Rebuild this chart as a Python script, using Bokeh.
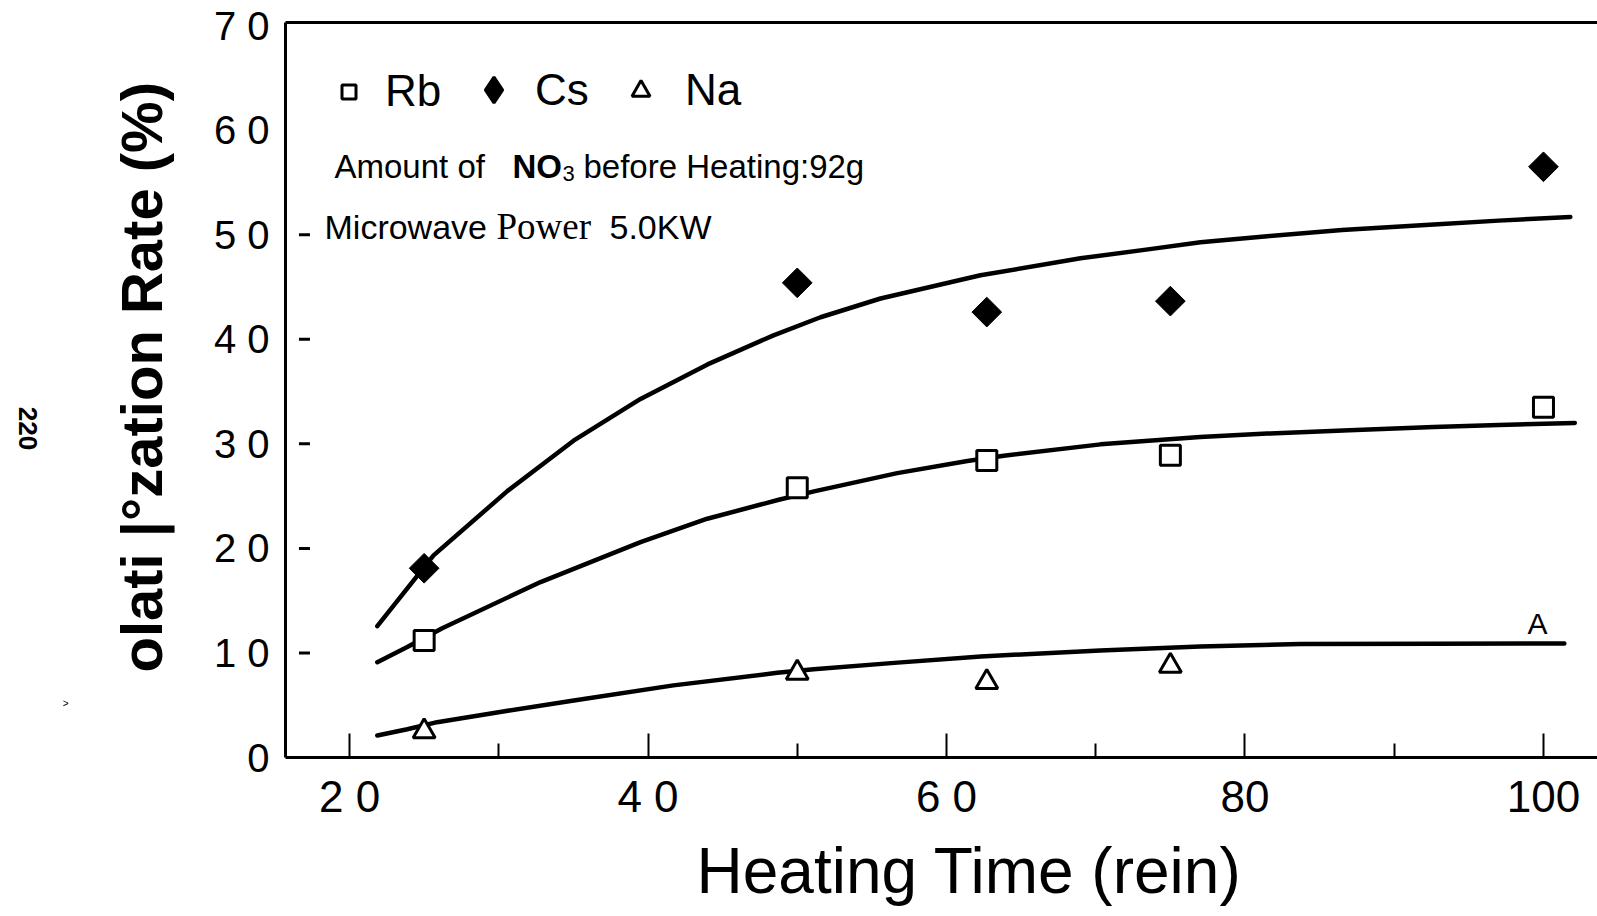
import numpy as np
from bokeh.plotting import figure
from bokeh.models import (Range1d, LinearAxis, FixedTicker, Label, Legend, LegendItem,
                          Title, ColumnDataSource)
from bokeh.embed import file_html
from bokeh.resources import INLINE

# ---------------- data ----------------
heating_time = [25, 50, 62.7, 75, 100]
rb_rate = [11.2, 25.8, 28.4, 28.9, 33.5]
cs_rate = [18.1, 45.4, 42.6, 43.65, 56.5]
na_time = [25, 50, 62.7, 75]
na_rate = [2.5, 8.1, 7.2, 8.75]

# hand-drawn fitted curves
cs_curve_t = [21.86, 25.63, 30.59, 35.01, 39.50, 43.99, 48.41, 51.56, 55.58,
              62.28, 68.98, 73.5, 77.02, 81.49, 86.5, 92.65, 97.0, 101.8]
cs_curve_r = [12.56, 19.33, 25.5, 30.3, 34.3, 37.6, 40.38, 42.11, 43.9,
              46.12, 47.75, 48.6, 49.28, 49.86, 50.45, 50.97, 51.35, 51.7]
rb_curve_t = [21.86, 23.87, 26.21, 32.8, 39.5, 43.97, 48.76, 51.2, 56.7,
              61.4, 63.84, 70.32, 77.0, 81.49, 87.0, 92.65, 97.0, 102.1]
rb_curve_r = [9.12, 10.56, 12.37, 16.78, 20.6, 22.84, 24.65, 25.48, 27.2,
              28.36, 28.87, 29.95, 30.65, 30.98, 31.3, 31.6, 31.8, 32.0]
na_curve_t = [21.86, 23.87, 25.87, 30.5, 35.03, 41.7, 48.66, 51.1, 56.5,
              62.3, 70.3, 77.0, 83.7, 92.65, 101.4]
na_curve_r = [2.1, 2.7, 3.38, 4.45, 5.45, 6.9, 8.1, 8.45, 9.05,
              9.67, 10.24, 10.62, 10.85, 10.88, 10.9]

x_ticks = [20, 40, 60, 80, 100]
x_minor_ticks = [30, 50, 70, 90]
x_tick_labels = ["2 0", "4 0", "6 0", "80", "100"]
y_ticks = [0, 10, 20, 30, 40, 50, 60, 70]
y_tick_labels = ["0", "1 0", "2 0", "3 0", "4 0", "5 0", "6 0", "7 0"]
y_dash_ticks = [10, 20, 30, 40, 50]

# ---------------- figure ----------------
FRAME_L, FRAME_T, FRAME_B = 285, 22, 757
W, H = 1597, 916
FONT = "Liberation Sans"

p = figure(width=W, height=H, output_backend="svg", toolbar_location=None,
           x_range=Range1d(15.71, 103.62), y_range=Range1d(0, 70.3),
           x_axis_type=None, y_axis_type=None,
           min_border_left=FRAME_L, min_border_right=0,
           min_border_top=FRAME_T, min_border_bottom=H - FRAME_B)
p.outline_line_color = None
p.background_fill_color = "white"
p.border_fill_color = "white"

# ---- bottom axis + title
xaxis = LinearAxis(ticker=FixedTicker(ticks=x_ticks, minor_ticks=x_minor_ticks),
                   major_label_overrides=dict(zip(x_ticks, x_tick_labels)),
                   axis_line_width=3, axis_line_color="black",
                   major_tick_in=24, major_tick_out=0, major_tick_line_width=2,
                   minor_tick_in=14, minor_tick_out=0, minor_tick_line_width=2,
                   major_label_text_font_size="44px", major_label_text_font=FONT,
                   major_label_text_color="black", major_label_standoff=14)
p.add_layout(xaxis, "below")
p.add_layout(Title(text="Heating Time (rein)", align="left", offset=411, standoff=19,
                   text_font=FONT, text_font_size="64px", text_font_style="normal",
                   text_color="black"), "below")

# ---- left axis + title + margin marks
yaxis = LinearAxis(ticker=FixedTicker(ticks=y_ticks),
                   major_label_overrides=dict(zip(y_ticks, y_tick_labels)),
                   axis_line_width=3, axis_line_color="black",
                   major_tick_in=0, major_tick_out=0, minor_tick_in=0, minor_tick_out=0,
                   major_label_text_font_size="40px", major_label_text_font=FONT,
                   major_label_text_color="black", major_label_standoff=16)
p.add_layout(yaxis, "left")
p.add_layout(Title(text="olati |°zation Rate (%)", align="left", offset=85, standoff=69,
                   vertical_align="top",
                   text_font=FONT, text_font_size="58px", text_font_style="bold",
                   text_color="black"), "left")

GT_POS = 5.17
gt_axis = LinearAxis(ticker=FixedTicker(ticks=[GT_POS]), major_label_overrides={GT_POS: ">"},
                     axis_line_color=None, major_tick_line_color=None, minor_tick_line_color=None,
                     major_label_text_font_size="10px", major_label_text_font=FONT,
                     major_label_text_color="black", major_label_standoff=0)
p.add_layout(gt_axis, "left")

PAGE_POS = 29.4
page_axis = LinearAxis(ticker=FixedTicker(ticks=[PAGE_POS]),
                       major_label_overrides={PAGE_POS: "220"},
                       axis_line_color=None, major_tick_line_color=None,
                       minor_tick_line_color=None, major_label_orientation=-np.pi / 2,
                       major_label_text_font_size="26px", major_label_text_font=FONT,
                       major_label_text_font_style="bold",
                       major_label_text_color="black", major_label_standoff=26)
p.add_layout(page_axis, "left")

# ---- top spine
top_axis = LinearAxis(ticker=FixedTicker(ticks=[]), axis_line_width=3,
                      axis_line_color="black", major_tick_in=0, major_tick_out=0,
                      minor_tick_in=0, minor_tick_out=0,
                      major_label_text_font_size="0px")
p.add_layout(top_axis, "above")

# small inner tick dashes on the y axis
TICK_X = 16.98
p.scatter([TICK_X] * len(y_dash_ticks), y_dash_ticks, marker="dash", size=11,
          line_width=3, line_color="black")

# curves
for t, r in ((cs_curve_t, cs_curve_r), (rb_curve_t, rb_curve_r), (na_curve_t, na_curve_r)):
    p.line(t, r, line_width=4.5, line_color="black", line_cap="round", line_join="round")

# markers
rb = p.scatter(heating_time, rb_rate, marker="square", size=20, line_width=3,
               line_color="black", fill_color="white")
cs = p.scatter(heating_time, cs_rate, marker="square", angle=np.pi / 4, size=21,
               line_width=1, line_color="black", fill_color="black")
na = p.scatter(na_time, na_rate, marker="triangle", size=22, line_width=3,
               line_color="black", fill_color="white")
# legend swatch for Cs (a diamond; its single NaN row is never drawn on the plot)
cs_key = p.scatter(x="x", y="y", source=ColumnDataSource(dict(x=[np.nan], y=[np.nan])),
                   marker="diamond", line_width=3, line_color="black", fill_color="black")


def make_legend(label, renderer, glyph, x, y, standoff):
    return Legend(items=[LegendItem(label=label, renderers=[renderer])],
                  orientation="horizontal", location=(x, y),
                  glyph_width=glyph, glyph_height=glyph, label_standoff=standoff,
                  padding=0, margin=0, border_line_color=None,
                  background_fill_alpha=0, label_text_font_size="44px",
                  label_text_font=FONT, label_text_color="black")


p.add_layout(make_legend("Rb", rb, 35, 46, 641, 19), "center")
p.add_layout(make_legend("Cs", cs_key, 65, 176, 635, 9), "center")
p.add_layout(make_legend("Na", na, 45, 333, 642, 22), "center")


def add_label(text, fx, fy, size, font=FONT, style="normal", align="left",
              baseline="alphabetic"):
    p.add_layout(Label(x=fx - FRAME_L, y=FRAME_B - fy, x_units="screen", y_units="screen",
                       text=text, text_font=font, text_font_size=size,
                       text_font_style=style, text_align=align,
                       text_baseline=baseline, text_color="black"))


# annotations inside the plot
add_label("Amount  of", 334, 166, "33px")
add_label("NO", 512, 166, "33px", style="bold")
add_label("3", 562, 173, "22px")
add_label("before Heating:92g", 583, 166, "33px")

add_label("Microwave", 324, 226, "34px")
add_label("Power", 496, 226, "37px", font="Liberation Serif")
add_label("5.0KW", 609, 226, "34px")

add_label("A", 1537, 623, "30px", align="center", baseline="middle")

open("out.html", "w").write(file_html(p, INLINE))
